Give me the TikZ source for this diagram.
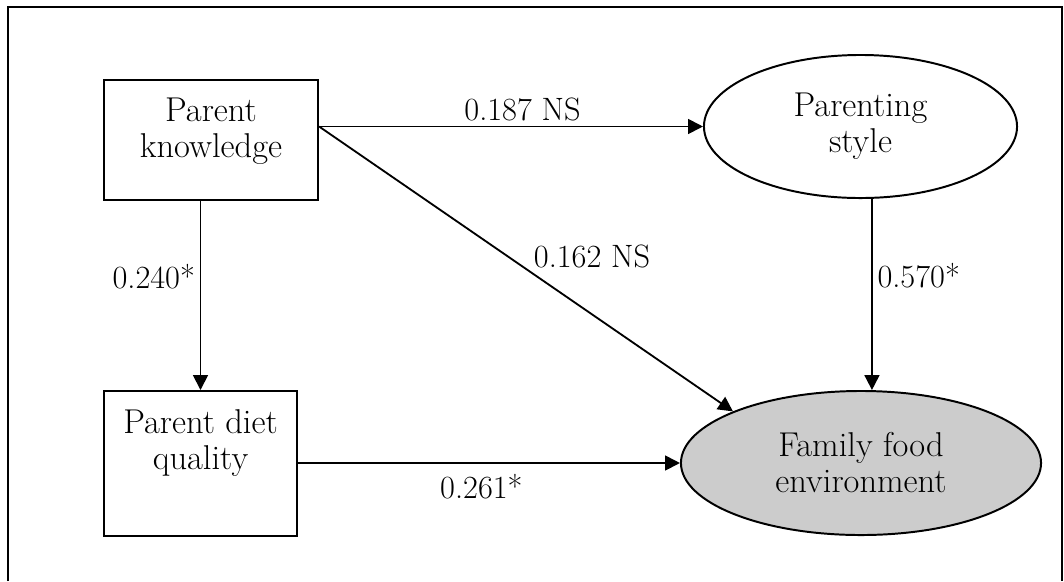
\documentclass[tikz,border=0pt]{standalone}
\usetikzlibrary{arrows.meta,shapes.geometric}
\definecolor{envgray}{gray}{0.8}
\newcommand{\pathfont}{\fontsize{24.5}{25.6}\selectfont}
\newcommand{\coeffont}{\fontsize{23}{25.6}\selectfont}
\tikzset{
  varbox/.style = {draw, line width=1.5pt, align=center, anchor=north, font=\pathfont},
  latent/.style = {draw, ellipse, line width=1.4pt, align=center, inner sep=0pt, font=\pathfont},
  effect/.style = {line width=1.3pt, -{Triangle[length=10.5pt,width=10.5pt]}},
  coef/.style = {font=\coeffont},
}

\begin{document}
\begin{tikzpicture}[x=0.025cm,y=-0.025cm]
  \useasboundingbox (0,0) rectangle (1064,581);
  % frame
  \draw[line width=1.4pt] (8,581) -- (8,7) -- (1062,7) -- (1062,581);
  % observed variables
  \node[varbox,minimum width=5.35cm,inner ysep=0.44cm,text depth=0.64cm] (know) at (211,79) {Parent\\knowledge};
  \node[varbox,minimum width=4.825cm,inner ysep=0.475cm,text depth=1.175cm] (diet) at (200.5,390) {Parent diet\\quality};
  % latent variables
  \node[latent,minimum width=7.825cm,minimum height=3.575cm] (style) at (860.5,126.5) {Parenting\\style};
  \node[latent,fill=envgray,minimum width=9cm,minimum height=3.6cm] (env) at (861,463) {Family food\\environment};
  % paths
  \draw[effect] (know.east |- style.west) -- node[coef,pos=0.53,above] {0.187 NS} (style.west);
  \draw[effect] (know.east |- style.west) -- node[coef,pos=0.51,anchor=south west,inner sep=2pt] {0.162 NS} (env.north west);
  \draw[effect] (diet.north |- know.south) -- node[coef,pos=0.4,left] {0.240*} (diet.north);
  \draw[effect] (style.-81) -- node[coef,pos=0.4,right] {0.570*} (style.-81 |- env.north);
  \draw[effect] (diet.east |- env.west) -- node[coef,pos=0.48,below=4pt] {0.261*} (env.west);
\end{tikzpicture}
\end{document}
